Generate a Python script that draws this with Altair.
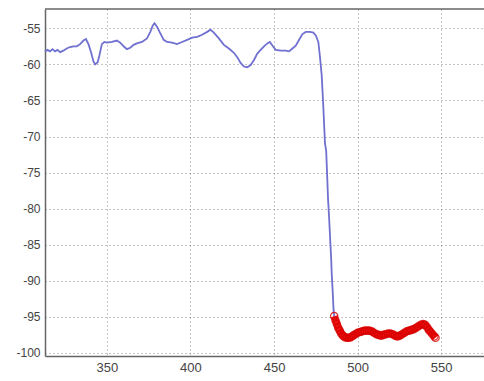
import altair as alt
import pandas as pd

# Blue trace (x, y)
blue_x = [313, 314.5, 316, 317.5, 319, 320.5, 322, 324, 326, 328, 330, 332, 334, 336, 337.5,
          339, 340.5, 342, 343, 344.5, 345.5, 347, 348.5, 350, 353, 356, 358, 360, 362, 364,
          366, 368, 371, 374, 376, 377.5, 378.5, 380, 382, 384, 386, 389, 392, 395, 398,
          401, 404, 407, 410, 412, 414, 417, 420, 423, 426, 428, 430, 432, 434, 436,
          438, 440, 442, 444, 446, 447.5, 449, 451, 454, 457, 459, 461, 463, 465, 467,
          469, 471.5, 473.5, 475, 476.5, 477.5, 478.5, 479.3, 480, 480.5, 481.2, 481.8, 482.3, 483,
          483.6, 484.2, 484.5, 485.1, 485.6, 486, 487, 488]
blue_y = [-58.2, -58.0, -58.2, -57.9, -58.2, -58.0, -58.3, -58.1, -57.8, -57.6, -57.5, -57.5, -57.2, -56.7, -56.5,
          -57.2, -58.3, -59.6, -60.0, -59.7, -58.8, -57.2, -56.9, -57.0, -56.9, -56.7, -57.0, -57.5, -57.9, -57.7,
          -57.3, -57.1, -56.9, -56.4, -55.5, -54.6, -54.3, -54.8, -55.7, -56.6, -56.9, -57.0, -57.2, -56.9, -56.6,
          -56.3, -56.2, -55.9, -55.5, -55.2, -55.6, -56.4, -57.3, -57.8, -58.4, -59.0, -59.8, -60.3, -60.4, -60.1,
          -59.4, -58.5, -58.0, -57.5, -57.1, -56.9, -57.4, -58.0, -58.1, -58.1, -58.2, -57.8, -57.4, -56.6, -55.8,
          -55.5, -55.5, -55.6, -56.0, -56.9, -59.0, -61.5, -65.0, -68.5, -71.0, -72.0, -75.5, -78.6, -81.5,
          -84.3, -87.0, -89.0, -91.5, -94.0, -94.9, -95.8, -96.4]

# Red marker trace (x, y)
red_x = [486.0, 486.8, 487.6, 488.4, 489.3, 490.2, 491.2, 492.3, 493.5, 494.8, 496.0, 497.3, 498.6,
         500.0, 501.4, 502.8, 504.2, 505.6, 507.0, 508.4, 509.8, 511.2, 512.6, 514.0, 515.4, 516.8,
         518.2, 519.6, 521.0, 522.4, 523.8, 525.2, 526.6, 528.0, 529.4, 530.8, 532.2, 533.6, 535.0,
         536.4, 537.8, 539.2, 540.4, 541.5, 542.6, 543.7, 544.8, 545.9, 546.6]
red_y = [-94.9, -95.5, -96.0, -96.5, -96.9, -97.3, -97.6, -97.8, -97.9, -97.9, -97.8, -97.6, -97.4,
         -97.2, -97.1, -97.0, -96.9, -96.9, -96.9, -97.0, -97.2, -97.4, -97.5, -97.6, -97.5, -97.4,
         -97.3, -97.3, -97.4, -97.6, -97.7, -97.6, -97.4, -97.2, -97.0, -96.9, -96.8, -96.7, -96.5,
         -96.3, -96.1, -96.0, -96.1, -96.4, -96.8, -97.1, -97.4, -97.7, -97.9]

x_ticks = [350, 400, 450, 500, 550]
y_ticks = [-55, -60, -65, -70, -75, -80, -85, -90, -95, -100]

blue = pd.DataFrame({"x": blue_x, "y": blue_y, "o": range(len(blue_x))})
red = pd.DataFrame({"x": red_x, "y": red_y, "o": range(len(red_x))})

W, H = 439, 347
xs = alt.Scale(domain=[313, 575.6], nice=False, zero=False)
ys = alt.Scale(domain=[-100.42, -52.33], nice=False, zero=False)

common = dict(title=None, grid=True, gridDash=[1, 3], gridColor="#8a8a8a", gridWidth=1,
              ticks=False, labelPadding=5, labelOverlap=False, labelColor="#444",
              domainColor="#666", domainWidth=1.5, labelFont="Liberation Sans",
              labelExpr="'' + datum.value")
xax = alt.Axis(values=x_ticks, labelFontSize=13, **common)
yax = alt.Axis(values=y_ticks, labelFontSize=12, **common)

X = alt.X("x:Q", scale=xs, axis=xax)
Y = alt.Y("y:Q", scale=ys, axis=yax)

blue_line = alt.Chart(blue).mark_line(color="#7070d0", strokeWidth=1.8).encode(
    x=X, y=Y, order="o:Q")

red_line = alt.Chart(red).mark_line(color="#ee1414", strokeWidth=7).encode(
    x=X, y=Y, order="o:Q")

red_pts = alt.Chart(red).mark_point(shape="circle", size=55, color="#d80000", filled=False,
                                    strokeWidth=1.2, opacity=0.8).encode(x=X, y=Y)

top_border = alt.Chart(pd.DataFrame({"a": [0]})).mark_rule(color="#666", strokeWidth=1.5).encode(
    x=alt.value(0), x2=alt.value(W), y=alt.value(0))

chart = alt.layer(blue_line, red_line, red_pts, top_border).properties(
    width=W, height=H,
    padding={"left": 45, "top": 9, "right": 0, "bottom": 25},
    autosize=alt.AutoSizeParams(type="none"),
    background="white",
).configure_view(stroke=None)

chart.save("out.html", embed_options={"renderer": "svg", "actions": False})
